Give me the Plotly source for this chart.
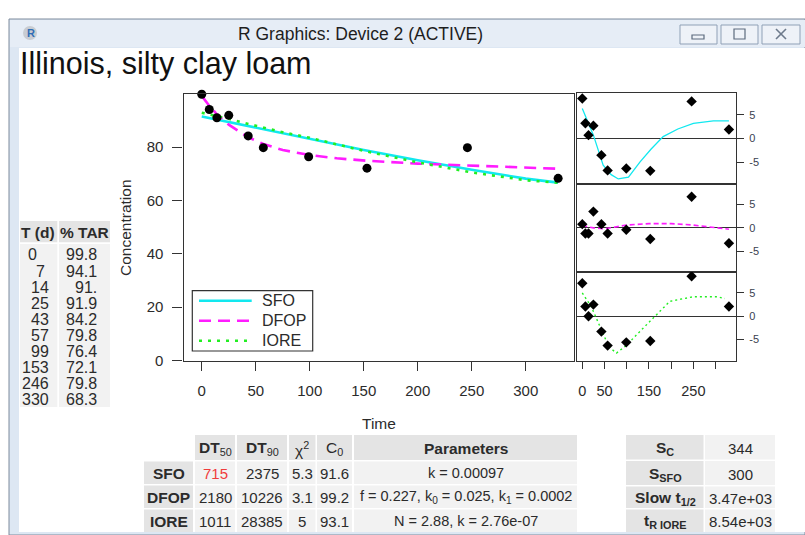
import plotly.graph_objects as go

W, H = 805, 535
FONT = "Liberation Sans, Arial, sans-serif"
INK = "#2b2b2b"


def px(x):
    return x / W


def py(y):
    return 1 - y / H


# ---------------- data ----------------
time_d = [0, 7, 14, 25, 43, 57, 99, 153, 246, 330]
tar = [99.8, 94.1, 91.0, 91.9, 84.2, 79.8, 76.4, 72.1, 79.8, 68.3]
tar_labels = ["99.8", "94.1", "91.", "91.9", "84.2", "79.8", "76.4", "72.1", "79.8", "68.3"]
time_labels = ["0", "7", "14", "25", "43", "57", "99", "153", "246", "330"]

fit_t = [0, 25, 50, 75, 100, 150, 200, 250, 300, 330]
sfo_fit = [91.5, 89.4, 87.2, 85.0, 82.9, 78.9, 75.1, 71.5, 68.2, 66.7]
iore_fit = [92.9, 90.6, 88.0, 85.6, 83.5, 78.6, 74.3, 70.5, 67.6, 66.6]
dfop_t = [0, 7, 14, 25, 43, 57, 75, 99, 125, 153, 200, 246, 290, 330]
dfop_fit = [99.2, 95.5, 92.3, 88.4, 83.7, 81.2, 78.9, 77.1, 75.8, 74.9, 73.8, 73.1, 72.4, 71.9]

res_sfo = [8.4, 3.2, 0.7, 2.7, -3.5, -6.7, -6.3, -6.8, 7.8, 1.9]
res_dfop = [0.8, -1.2, -1.2, 3.5, 0.8, -1.2, -0.4, -2.4, 6.7, -3.3]
res_iore = [7.1, 2.1, 0.0, 2.5, -3.3, -6.3, -5.6, -5.3, 8.6, 2.1]

sfo_sm_t = [0, 10, 25, 47, 65, 81, 104, 130, 155, 182, 215, 250, 295, 330]
sfo_sm = [6.3, 4.0, 0.7, -5.6, -7.6, -8.5, -8.1, -4.9, -2.2, 0.4, 2.0, 3.2, 3.7, 3.7]
dfop_sm_t = [0, 25, 50, 75, 100, 150, 200, 250, 300, 330]
dfop_sm = [0.5, 0.0, -0.2, 0.2, 0.6, 0.9, 0.9, 0.6, 0.1, -0.3]
iore_sm_t = [0, 20, 43, 60, 77, 100, 122, 164, 197, 250, 303, 321]
iore_sm = [5.0, 2.1, -2.9, -6.6, -7.9, -6.2, -4.0, 0.0, 3.2, 4.2, 4.2, 3.8]

x_ticks = [0, 50, 100, 150, 200, 250, 300]
y_ticks = [0, 20, 40, 60, 80]
res_ticks = [-5, 0, 5]
res_x_labeled = [0, 50, 150, 250]
res_x_unlabeled = [100, 200, 300]

legend_names = ["SFO", "DFOP", "IORE"]
models = ["SFO", "DFOP", "IORE"]
dt50 = ["715", "2180", "1011"]
dt90 = ["2375", "10226", "28385"]
chi2 = ["5.3", "3.1", "5"]
c0 = ["91.6", "99.2", "93.1"]
params = ["k = 0.00097",
          "f = 0.227, k<sub>0</sub> = 0.025, k<sub>1</sub> = 0.0002",
          "N = 2.88, k = 2.76e-07"]
stat_labels = ["<b>S</b><sub><b>C</b></sub>", "<b>S</b><sub><b>SFO</b></sub>",
               "<b>Slow t</b><sub><b>1/2</b></sub>", "<b>t</b><sub><b>R IORE</b></sub>"]
stat_values = ["344", "300", "3.47e+03", "8.54e+03"]

CYAN = "#12e8ef"
MAG = "#ff1cff"
GRN = "#22ee22"
main_styles = [dict(color=CYAN, width=2.6),
               dict(color=MAG, width=2.6, dash="12px,7px"),
               dict(color=GRN, width=2.6, dash="3px,6px")]

fig = go.Figure()

# ---------------- main plot ----------------
fig.add_trace(go.Scatter(x=fit_t, y=sfo_fit, mode="lines", name="SFO",
                         line=main_styles[0], xaxis="x", yaxis="y"))
fig.add_trace(go.Scatter(x=dfop_t, y=dfop_fit, mode="lines", name="DFOP",
                         line=main_styles[1], xaxis="x", yaxis="y"))
fig.add_trace(go.Scatter(x=fit_t, y=iore_fit, mode="lines", name="IORE",
                         line=main_styles[2], xaxis="x", yaxis="y"))
fig.add_trace(go.Scatter(x=time_d, y=tar, mode="markers", cliponaxis=False,
                         marker=dict(color="black", size=9, symbol="circle"), xaxis="x", yaxis="y"))

# ---------------- residual panels ----------------
panels = [("x2", "y2", res_sfo, sfo_sm_t, sfo_sm, dict(color=CYAN, width=1.3)),
          ("x3", "y3", res_dfop, dfop_sm_t, dfop_sm, dict(color=MAG, width=1.6, dash="5px,3px")),
          ("x4", "y4", res_iore, iore_sm_t, iore_sm, dict(color=GRN, width=1.4, dash="2px,3px"))]
for xa, ya, res, st, sv, ln in panels:
    fig.add_trace(go.Scatter(x=st, y=sv, mode="lines", line=ln, xaxis=xa, yaxis=ya))
    fig.add_trace(go.Scatter(x=time_d, y=res, mode="markers", cliponaxis=False,
                             marker=dict(color="black", size=8, symbol="diamond"),
                             xaxis=xa, yaxis=ya))

axis_common = dict(showgrid=False, showline=True, mirror=True, linecolor="#333333",
                   linewidth=1.2, tickcolor="#333333", tickwidth=1, automargin=False,
                   tickfont=dict(family=FONT, size=15, color=INK))

layout = dict(
    width=W, height=H, margin=dict(l=0, r=0, t=0, b=0, pad=0, autoexpand=False),
    autosize=False,
    paper_bgcolor="white", plot_bgcolor="white",
    showlegend=False,
    xaxis=dict(domain=[px(183.5), px(574)], range=[-16.9, 344.7], anchor="y",
               tickvals=x_ticks, ticks="outside", ticklen=9, ticklabelstandoff=7,
               zeroline=False, **axis_common),
    yaxis=dict(domain=[py(360.5), py(94.3)], range=[0, 99.8], anchor="x",
               tickvals=y_ticks, ticks="outside", ticklen=10, ticklabelstandoff=6,
               zeroline=False, **axis_common),
)

res_dom = [(93.3, 183.7), (183.7, 272.0), (272.0, 360.5)]
for i, (top, bot) in enumerate(res_dom):
    n = i + 2
    xa = dict(domain=[px(577), px(736)], range=[-11.9, 345.9], anchor=f"y{n}",
              zeroline=False, **axis_common)
    if n == 4:
        xa.update(tickvals=res_x_labeled, ticks="outside", ticklen=7,
                  ticklabelstandoff=10,
                  minor=dict(tickvals=res_x_unlabeled, ticks="outside", ticklen=7,
                             tickcolor="#333333", tickwidth=1, showgrid=False))
        xa["tickfont"] = dict(family=FONT, size=14.5, color=INK)
    else:
        xa.update(showticklabels=False, ticks="")
    ya = dict(domain=[py(bot), py(top)], range=[-9.5, 9.5], anchor=f"x{n}", side="right",
              tickvals=res_ticks, ticktext=["-5", "0", "5"], ticks="outside", ticklen=7,
              ticklabelstandoff=3, zeroline=True, zerolinecolor="#333333", zerolinewidth=1.2,
              **{k: v for k, v in axis_common.items() if k != "tickfont"})
    ya["tickfont"] = dict(family=FONT, size=11, color="#3a4150")
    layout[f"xaxis{n}"] = xa
    layout[f"yaxis{n}"] = ya

shapes = []
annos = []


def rect(x0, y0, x1, y1, fill, line=None, lw=0, layer="below"):
    d = dict(type="rect", xref="paper", yref="paper", x0=px(x0), x1=px(x1),
             y0=py(y1), y1=py(y0), fillcolor=fill, layer=layer,
             line=dict(width=lw, color=line or fill))
    shapes.append(d)


def seg(x0, y0, x1, y1, line):
    shapes.append(dict(type="line", xref="paper", yref="paper", x0=px(x0), x1=px(x1),
                       y0=py(y0), y1=py(y1), line=line, layer="above"))


def text(x, y, s, size=16, color=INK, xanchor="center", family=FONT, angle=0):
    annos.append(dict(x=px(x), y=py(y), xref="paper", yref="paper", text=s,
                      showarrow=False, xanchor=xanchor, yanchor="middle",
                      font=dict(family=family, size=size, color=color), textangle=angle))


# ---------------- window chrome ----------------
rect(9, 19, 805, 535, "#dde7f3", line="#7d8a9c", lw=1)
rect(19, 48, 805, 532, "white")
rect(10, 20, 805, 47, "#e6edf6")
text(360, 34, "R Graphics: Device 2 (ACTIVE)", size=17.5, color="#1e1e1e")
shapes.append(dict(type="circle", xref="paper", yref="paper", x0=px(23), x1=px(37),
                   y0=py(40), y1=py(26), fillcolor="#c8ccd2", line=dict(width=0)))
text(30.5, 33.5, "<b>R</b>", size=11, color="#2f6db5")
for bx0, bx1 in [(680, 717), (721, 758), (762, 800)]:
    rect(bx0, 25, bx1, 44, "#eef2f8", line="#8fa0b6", lw=1, layer="below")
rect(692, 35, 704, 39, "#eef2f8", line="#5d6b7e", lw=1.2, layer="above")
rect(734, 29, 745, 39, "#eef2f8", line="#5d6b7e", lw=1.2, layer="above")
seg(776, 29, 786, 39, dict(color="#6d7a8c", width=1.6))
seg(786, 29, 776, 39, dict(color="#6d7a8c", width=1.6))

# title
text(18, 64, "Illinois, silty clay loam", size=30.5, color="#111111", xanchor="left")

# ---------------- legend (R-style box) ----------------
rect(192.3, 290.7, 312.7, 351, "white", line="#333333", lw=1.2, layer="above")
for k, (nm, st) in enumerate(zip(legend_names, main_styles)):
    yy = 300.7 + 20 * k
    seg(199, yy, 251.7, yy, st)
    text(260, yy, nm, size=16, xanchor="left")

# ---------------- left data table ----------------
HDR = "#e4e4e4"
BODY = "#f2f2f2"
rect(20, 221, 57.3, 242.3, HDR)
rect(59, 221, 110, 242.3, HDR)
rect(20, 244, 57.3, 407, BODY)
rect(59, 244, 110, 407, BODY)
text(37.5, 232, "<b>T (d)</b>", size=15.5)
text(84, 232, "<b>% TAR</b>", size=15.5)
col1_right = [39, 47, 50.5, 50.5, 50.5, 50.5, 50.5, 51, 51, 51]
for i, (tl, vl) in enumerate(zip(time_labels, tar_labels)):
    yy = 255 + 16 * i
    text(col1_right[i], yy, tl, size=16, xanchor="right")
    text(98.5, yy, vl, size=16, xanchor="right")

# axis titles
text(125, 227, "Concentration", size=15.5, angle=-90)
text(379, 423, "Time", size=15.5)

# ---------------- bottom model table ----------------
cols = [(195, 235), (237, 287), (289, 315.5), (317, 352), (354, 577)]
rows = [(435, 460), (461.5, 484), (485.5, 508), (509.5, 532)]
for cx0, cx1 in cols:
    rect(cx0, rows[0][0], cx1, rows[0][1], HDR)
    for ry0, ry1 in rows[1:]:
        rect(cx0, ry0, cx1, ry1, BODY)
for ry0, ry1 in rows[1:]:
    rect(144, ry0, 193, ry1, HDR)

row_c = [448.5, 473, 497, 521]
headers = ["<b>DT</b><sub>50</sub>", "<b>DT</b><sub>90</sub>", "χ<sup>2</sup>",
           "C<sub>0</sub>", "<b>Parameters</b>"]
for (cx0, cx1), h in zip(cols, headers):
    text((cx0 + cx1) / 2, row_c[0], h, size=15.5)
for i, m in enumerate(models):
    yy = row_c[i + 1]
    text(168.5, yy, f"<b>{m}</b>", size=15.5)
    vals = [dt50[i], dt90[i], chi2[i], c0[i], params[i]]
    for j, ((cx0, cx1), v) in enumerate(zip(cols, vals)):
        col = "#f03c3c" if (i == 0 and j == 0) else INK
        sz = 14.5 if j == 4 else 15
        text((cx0 + cx1) / 2, yy, v, size=sz, color=col)

# ---------------- right stats table ----------------
rrows = [(435, 459.5), (461, 485), (486.5, 508), (509.5, 532)]
for (ry0, ry1), lab, val in zip(rrows, stat_labels, stat_values):
    rect(626, ry0, 703.5, ry1, HDR)
    rect(705, ry0, 775, ry1, BODY)
    yc = (ry0 + ry1) / 2 + 1
    text(665, yc, lab, size=15.5)
    text(740, yc, val, size=15)

layout["shapes"] = shapes
layout["annotations"] = annos
fig.update_layout(**layout)

post = ("var h=document.documentElement,b=document.body;"
        "h.style.margin='0';h.style.padding='0';h.style.overflow='hidden';"
        "b.style.margin='0';b.style.padding='0';b.style.overflow='hidden';")
fig.write_html("out.html", config={"displayModeBar": False, "responsive": False},
               post_script=post)
